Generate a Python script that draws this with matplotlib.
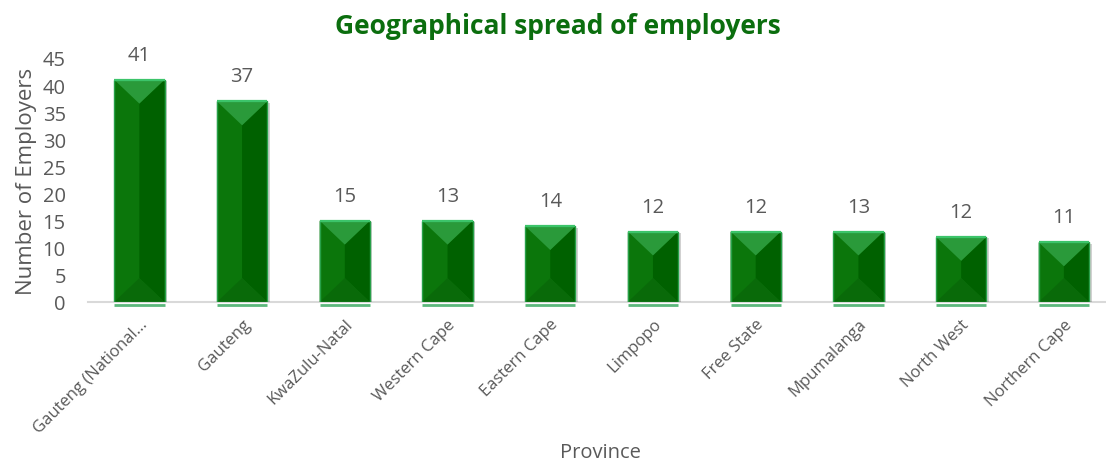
import numpy as np
import matplotlib
matplotlib.use('Agg')
import matplotlib.pyplot as plt
from matplotlib.patches import Polygon, Rectangle

# ---- data ----
provinces = ['Gauteng (National...', 'Gauteng', 'KwaZulu-Natal', 'Western Cape',
             'Eastern Cape', 'Limpopo', 'Free State', 'Mpumalanga', 'North West',
             'Northern Cape']
bar_values = [41, 37, 15, 15, 14, 13, 13, 13, 12, 11]
label_values = [41, 37, 15, 13, 14, 12, 12, 13, 12, 11]
y_ticks = [0, 5, 10, 15, 20, 25, 30, 35, 40, 45]

title = 'Geographical spread of employers'
x_label = 'Province'
y_label = 'Number of Employers'

plt.rcParams['font.family'] = ['Open Sans', 'DejaVu Sans']
GRAY = '#595959'

W, H = 1106, 464
fig = plt.figure(figsize=(W / 100, H / 100), dpi=100)
ax_l, ax_b, ax_w, ax_h = 88, 161, W - 88, 244
ax = fig.add_axes([ax_l / W, ax_b / H, ax_w / W, ax_h / H])

x = np.arange(len(provinces))
bw = 0.49
xlim = (-0.5, 9.41)
ylim = (0, 45)
ax.set_xlim(*xlim)
ax.set_ylim(*ylim)

ppx = ax_w / (xlim[1] - xlim[0])
ppy = ax_h / (ylim[1] - ylim[0])

bars = ax.bar(x, bar_values, width=bw, color='#0b760b', edgecolor='none', zorder=2)

for rect in bars:
    x0 = rect.get_x()
    w = rect.get_width()
    h = rect.get_height()
    cx = x0 + w / 2
    depth_px = min(w * ppx / 2 * 0.95, h * ppy / 2)
    d = depth_px / ppy
    # shadow
    ax.add_patch(Rectangle((x0 + 2.5 / ppx, 0), w, h - 1.5 / ppy, facecolor='#000000',
                           alpha=0.18, edgecolor='none', zorder=1.5))
    # regions
    ax.add_patch(Polygon([(x0, 0), (cx, d), (cx, h - d), (x0, h)], closed=True,
                         facecolor='#0b760b', edgecolor='none', zorder=3))
    ax.add_patch(Polygon([(x0 + w, 0), (cx, d), (cx, h - d), (x0 + w, h)], closed=True,
                         facecolor='#006100', edgecolor='none', zorder=3))
    ax.add_patch(Polygon([(x0, h), (x0 + w, h), (cx, h - d)], closed=True,
                         facecolor='#2a9a3a', edgecolor='none', zorder=3.1))
    ax.add_patch(Polygon([(x0, 0), (x0 + w, 0), (cx, d)], closed=True,
                         facecolor='#096a09', edgecolor='none', zorder=3.1))
    # edges
    ax.add_patch(Rectangle((x0, 0), w, h, facecolor='none', edgecolor='#27a048',
                           linewidth=1.0, zorder=3.2))
    ax.plot([x0, x0 + w], [h, h], color='#3cc46a', linewidth=1.6, zorder=3.3,
            solid_capstyle='butt')
    # reflection line under axis
    ax.plot([x0, x0 + w], [-3.0 / ppy, -3.0 / ppy], color='#5cb87c', linewidth=2,
            zorder=3, clip_on=False, solid_capstyle='butt')

for xi, hv, lv in zip(x, bar_values, label_values):
    ax.annotate(str(lv), (xi, hv), xytext=(0, 25), textcoords='offset pixels',
                ha='center', va='center', fontsize=14.5, color=GRAY, zorder=5)

ax.set_yticks(y_ticks)
ax.set_yticklabels([str(v) for v in y_ticks], fontsize=14.5, color=GRAY)
ax.set_xticks(x)
ax.set_xticklabels(provinces, rotation=45, ha='right', rotation_mode='anchor',
                   fontsize=12, color=GRAY)
ax.tick_params(axis='y', length=0, pad=16)
ax.tick_params(axis='x', length=0, pad=10)

for s in ['top', 'right', 'left']:
    ax.spines[s].set_visible(False)
ax.spines['bottom'].set_color('#d9d9d9')
ax.spines['bottom'].set_linewidth(1.5)
ax.spines['bottom'].set_zorder(1)

ax.set_ylabel(y_label, fontsize=16, color=GRAY, labelpad=4)
fig.text(600 / W, 1 - 453 / H, x_label, ha='center', va='center', fontsize=14.5,
         color=GRAY)
fig.text(558 / W, 1 - 27 / H, title, ha='center', va='center', fontsize=19,
         fontweight='bold', color='#0b6e0e')

fig.savefig('out.png', dpi=100)
